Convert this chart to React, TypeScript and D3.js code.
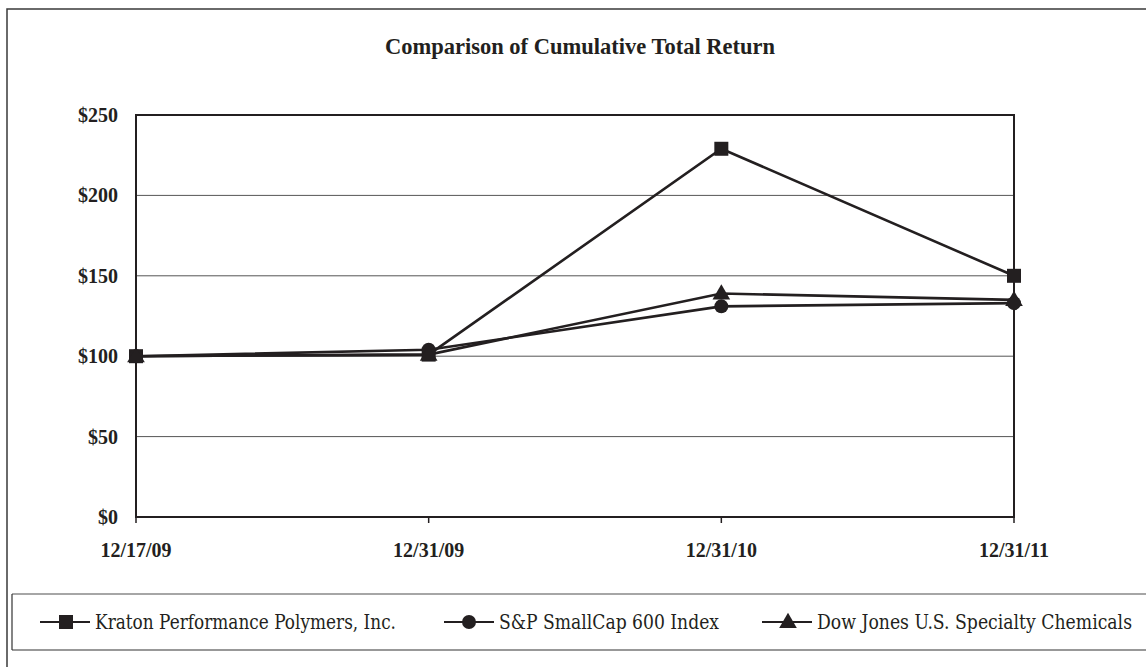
import React from "react";
import * as d3 from "d3";

const categories = ["12/17/09", "12/31/09", "12/31/10", "12/31/11"];
const kraton = [100, 101, 229, 150];
const sp600 = [100, 104, 131, 133];
const djChem = [100, 101, 139, 135];
const yTicks = [0, 50, 100, 150, 200, 250];
const seriesNames = [
  "Kraton Performance Polymers, Inc.",
  "S&P SmallCap 600 Index",
  "Dow Jones U.S. Specialty Chemicals",
];
const seriesMarkers = ["square", "circle", "triangle"];

const W = 1146;
const H = 667;
const plot = { left: 136, right: 1014, top: 115, bottom: 517 };
const ink = "#231f20";
const FONT = "'Liberation Serif'";
const LEGEND_FONT = "'DejaVu Serif', serif";
const SX = 0.8;

function Marker({ type, x, y }: { type: string; x: number; y: number }) {
  if (type === "square") return <rect x={x - 7} y={y - 7} width={14} height={14} fill={ink} />;
  if (type === "circle") return <circle cx={x} cy={y} r={7} fill={ink} />;
  const p = d3.symbol(d3.symbolTriangle, 135)();
  return <path d={p || ""} transform={`translate(${x},${y + 1})`} fill={ink} />;
}

export default function App() {
  const x = d3.scalePoint<string>().domain(categories).range([plot.left, plot.right]);
  const y = d3.scaleLinear().domain([0, 250]).range([plot.bottom, plot.top]);
  const line = d3
    .line<number>()
    .x((_, i) => x(categories[i]) as number)
    .y((d) => y(d));
  const all = [kraton, sp600, djChem];
  const legendItems = [
    { lineStart: 40, marker: 66, text: 95, w: 301 },
    { lineStart: 444, marker: 469, text: 499, w: 220 },
    { lineStart: 762, marker: 788, text: 817, w: 315 },
  ];
  return (
    <svg
      width={W}
      height={H}
      style={{ position: "absolute", left: 0, top: 0, background: "#fff" }}
      fontFamily={FONT}
    >
      <rect x={0} y={0} width={W} height={H} fill="#fff" />
      <path d={`M7,${H} L7,9 L${W},9`} fill="none" stroke="#3a3a3a" strokeWidth={1.5} />
      <text x={580} y={54} textAnchor="middle" fontWeight="bold" fontSize={22.5} fill={ink} fontFamily={FONT}>
        Comparison of Cumulative Total Return
      </text>
      {yTicks.map((t) => (
        <line key={t} x1={plot.left} x2={plot.right} y1={y(t)} y2={y(t)} stroke="#555" strokeWidth={1} />
      ))}
      <rect
        x={plot.left}
        y={plot.top}
        width={plot.right - plot.left}
        height={plot.bottom - plot.top}
        fill="none"
        stroke={ink}
        strokeWidth={2}
      />
      {yTicks.map((t) => (
        <text key={t} x={118} y={y(t) + 7} textAnchor="end" fontWeight="bold" fontSize={20} fill={ink} fontFamily={FONT}>
          ${t}
        </text>
      ))}
      {categories.map((c) => (
        <g key={c}>
          <line x1={x(c)} x2={x(c)} y1={plot.bottom} y2={plot.bottom + 6} stroke={ink} strokeWidth={1.5} />
          <text x={x(c)} y={557} textAnchor="middle" fontWeight="bold" fontSize={20} fill={ink} fontFamily={FONT}>
            {c}
          </text>
        </g>
      ))}
      {all.map((s, si) => (
        <path key={si} d={line(s) || ""} fill="none" stroke={ink} strokeWidth={2.6} />
      ))}
      {all.map((s, si) =>
        s.map((v, i) => (
          <Marker key={`${si}-${i}`} type={seriesMarkers[si]} x={x(categories[i]) as number} y={y(v)} />
        ))
      )}
      <line x1={12} x2={W} y1={594} y2={594} stroke="#888" strokeWidth={1.5} />
      <line x1={12} x2={W} y1={650} y2={650} stroke="#333" strokeWidth={1.2} />
      <line x1={12} x2={12} y1={594} y2={650} stroke="#333" strokeWidth={1.2} />
      {legendItems.map((li, i) => (
        <g key={i}>
          <line x1={li.lineStart} x2={li.lineStart + 50} y1={622} y2={622} stroke={ink} strokeWidth={2} />
          <Marker type={seriesMarkers[i]} x={li.marker} y={622} />
          <g transform={`translate(${li.text},629) scale(${SX},1)`}>
            <text
              x={0}
              y={0}
              fontSize={20}
              fill={ink}
              fontFamily={LEGEND_FONT}
              textLength={li.w / SX}
              lengthAdjust="spacingAndGlyphs"
            >
              {seriesNames[i]}
            </text>
          </g>
        </g>
      ))}
    </svg>
  );
}
